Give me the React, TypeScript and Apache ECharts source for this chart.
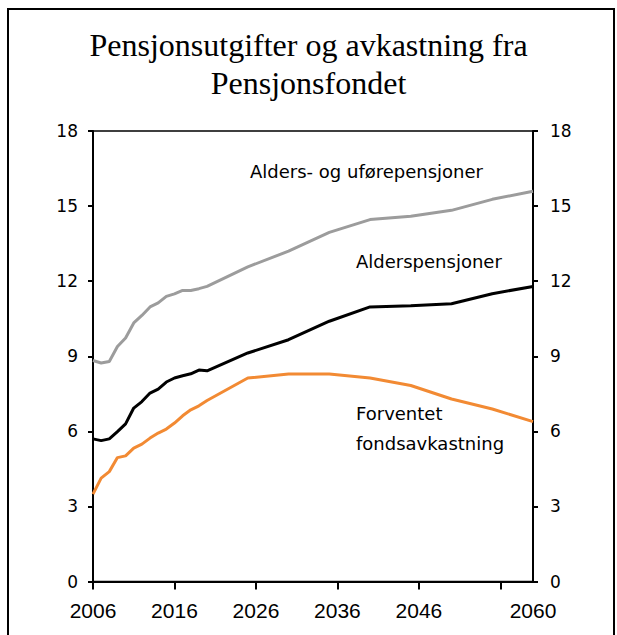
import React, { useEffect, useRef } from "react";
import * as echarts from "echarts";

// x-axis categories: every year 2006..2060
const firstYear = 2006;
const lastYear = 2060;
const categories: string[] = [];
for (let y = firstYear; y <= lastYear; y++) categories.push(String(y));

// years that carry a labelled tick
const xLabelYears = ["2006", "2016", "2026", "2036", "2046", "2060"];
const xTickYears = ["2006", "2016", "2026", "2036", "2046", "2056"];

// years where the series have points
const pointYears = [
  "2006", "2007", "2008", "2009", "2010", "2011", "2012", "2013", "2014", "2015",
  "2016", "2017", "2018", "2019", "2020", "2025", "2030", "2035", "2040", "2045",
  "2050", "2055", "2060",
];

const aldersUfore = [
  8.83, 8.73, 8.79, 9.39, 9.73, 10.33, 10.63, 10.97, 11.13, 11.39,
  11.49, 11.63, 11.63, 11.7, 11.79, 12.57, 13.2, 13.95, 14.46, 14.59,
  14.83, 15.27, 15.59,
];
const alderspensjoner = [
  5.7, 5.63, 5.7, 5.99, 6.3, 6.93, 7.19, 7.53, 7.69, 7.97,
  8.13, 8.22, 8.3, 8.45, 8.42, 9.13, 9.66, 10.4, 10.97, 11.02,
  11.1, 11.5, 11.79,
];
const fondsavkastning = [
  3.49, 4.13, 4.39, 4.95, 5.02, 5.33, 5.49, 5.73, 5.93, 6.09,
  6.33, 6.62, 6.86, 7.02, 7.23, 8.13, 8.29, 8.29, 8.13, 7.83,
  7.29, 6.89, 6.39,
];

const seriesNames = ["Alders- og uførepensjoner", "Alderspensjoner", "Forventet fondsavkastning"];
const seriesColors = ["#9c9c9c", "#000000", "#f28a33"];

const titleText = "Pensjonsutgifter og avkastning fra\nPensjonsfondet";

const SANS = "DejaVu Sans";
const ARIAL = "Liberation Sans";
const SERIF = "Liberation Serif";

export default function App() {
  const ref = useRef<HTMLDivElement>(null);

  useEffect(() => {
    if (!ref.current) return;
    const chart = echarts.init(ref.current, null, { renderer: "svg" });
    const pairs = (vals: number[]) => pointYears.map((y, i) => [y, vals[i]]);
    const yAxisBase = {
      type: "value" as const,
      min: 0,
      max: 18,
      interval: 3,
      splitLine: { show: false },
      axisLine: { show: true, lineStyle: { color: "#000", width: 2 } },
      axisTick: { show: true, inside: false, length: 5, lineStyle: { color: "#000", width: 2 } },
      axisLabel: { color: "#000", fontFamily: SANS, fontSize: 17 },
    };
    const annot = (text: string, x: number, y: number) => ({
      type: "text",
      x,
      y,
      style: {
        text,
        fill: "#000",
        fontFamily: SANS,
        fontSize: 18,
        verticalAlign: "middle",
        align: "left",
      },
    });
    chart.setOption({
      animation: false,
      backgroundColor: "#fff",
      title: {
        text: titleText,
        left: "center",
        top: 26,
        padding: 0,
        textStyle: {
          fontFamily: SERIF,
          fontSize: 32,
          fontWeight: "normal",
          color: "#000",
          lineHeight: 38,
        },
      },
      grid: {
        left: 93,
        right: 84,
        top: 131,
        bottom: 53.5,
        show: true,
        borderColor: "#000",
        borderWidth: 1.5,
        backgroundColor: "transparent",
      },
      xAxis: {
        type: "category",
        data: categories,
        boundaryGap: false,
        axisLine: { show: true, lineStyle: { color: "#000", width: 2 } },
        axisTick: {
          show: true,
          length: 8,
          lineStyle: { color: "#000", width: 2 },
          interval: (i: number, v: string) => xTickYears.includes(v),
        },
        axisLabel: {
          color: "#000",
          fontFamily: ARIAL,
          fontSize: 21,
          margin: 18,
          interval: (i: number, v: string) => xLabelYears.includes(v),
        },
        splitLine: { show: false },
      },
      yAxis: [
        { ...yAxisBase, position: "left", axisLabel: { ...yAxisBase.axisLabel, margin: 15 } },
        { ...yAxisBase, position: "right", axisLabel: { ...yAxisBase.axisLabel, margin: 17 } },
      ],
      series: [aldersUfore, alderspensjoner, fondsavkastning].map((vals, i) => ({
        name: seriesNames[i],
        type: "line",
        data: pairs(vals),
        symbol: "none",
        lineStyle: { color: seriesColors[i], width: 3 },
        itemStyle: { color: seriesColors[i] },
      })),
      graphic: [
        {
          type: "rect",
          shape: { x: 8, y: 9, width: 606, height: 700 },
          style: { fill: "none", stroke: "#000", lineWidth: 2 },
        },
        annot("Alders- og uførepensjoner", 250, 171),
        annot("Alderspensjoner", 356, 261),
        annot("Forventet", 356, 413.5),
        annot("fondsavkastning", 356, 443),
      ],
    });
    return () => chart.dispose();
  }, []);

  return (
    <div
      ref={ref}
      style={{ position: "absolute", left: 0, top: 0, width: 617, height: 635 }}
    />
  );
}
